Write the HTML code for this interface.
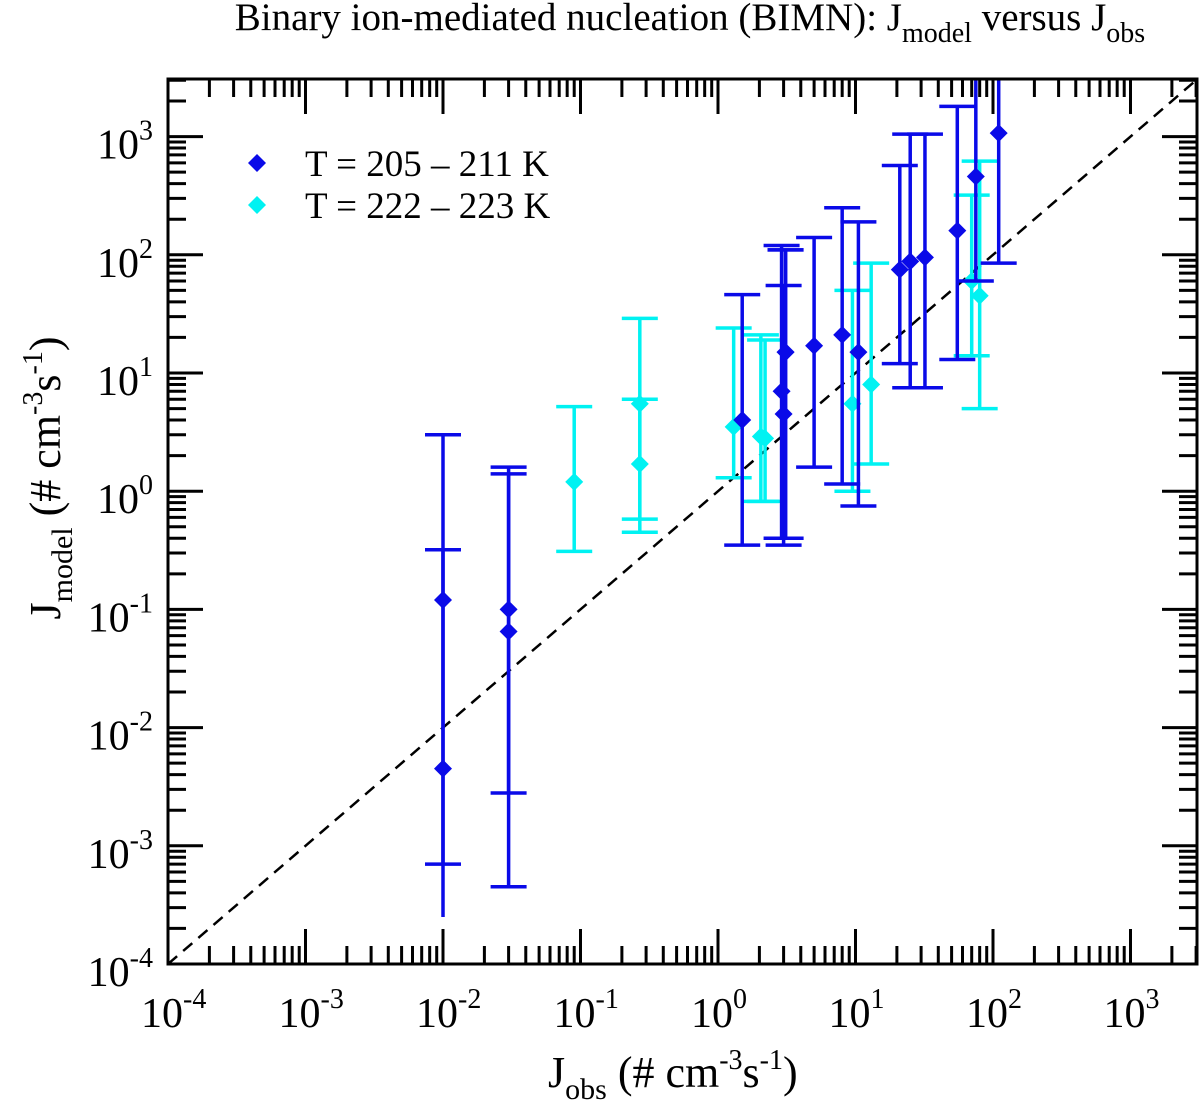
<!DOCTYPE html>
<html><head><meta charset="utf-8"><style>
html,body{margin:0;padding:0;background:#fff;}
svg{display:block;font-family:"Liberation Serif",serif;}
</style></head><body>
<svg id="chart" width="1201" height="1112" viewBox="0 0 1201 1112">
<text x="690" y="30" text-anchor="middle" font-size="39">Binary ion-mediated nucleation (BIMN): J<tspan font-size="28" dy="12">model</tspan><tspan dy="-12"> versus J</tspan><tspan font-size="28" dy="12">obs</tspan></text>
<g id="plot"></g>
<text x="548" y="1087" font-size="44">J<tspan font-size="30" dy="12">obs</tspan><tspan dy="-12"> (# cm</tspan><tspan font-size="28" dy="-18">-3</tspan><tspan dy="18">s</tspan><tspan font-size="28" dy="-18">-1</tspan><tspan dy="18">)</tspan></text>
<text transform="translate(60,478) rotate(-90)" text-anchor="middle" font-size="44">J<tspan font-size="30" dy="12">model</tspan><tspan dy="-12"> (# cm</tspan><tspan font-size="28" dy="-18">-3</tspan><tspan dy="18">s</tspan><tspan font-size="28" dy="-18">-1</tspan><tspan dy="18">)</tspan></text>
</svg>
<script>
// data
const blueX  = [0.01, 0.01, 0.03, 0.03, 1.5, 2.9, 3.0, 3.1, 3.1, 5, 8, 10.5, 21, 25, 32, 55, 75, 110];
const blueY  = [0.12, 0.0045, 0.1, 0.065, 4.0, 7, 4.5, 15, 15, 17, 21, 15, 75, 88, 95, 160, 460, 1070];
const blueHi = [3, 0.32, 1.6, 1.4, 46, 120, 55, 110, 110, 140, 250, 190, 570, 1050, 1050, 1800, 5000, 5000];
const blueLo = [0.00025, 0.0007, 0.0028, 0.00045, 0.35, 0.4, 0.35, 0.4, 0.4, 1.6, 1.15, 0.75, 12, 7.5, 7.5, 13, 60, 85];
const cyanX  = [0.09, 0.27, 0.27, 1.3, 2.05, 2.2, 9.5, 13, 70, 80];
const cyanY  = [1.2, 5.5, 1.7, 3.5, 2.9, 2.8, 5.5, 8, 60, 45];
const cyanHi = [5.2, 29, 6, 24, 21, 19, 50, 85, 320, 620];
const cyanLo = [0.31, 0.45, 0.58, 1.3, 0.82, 0.82, 1.0, 1.7, 14, 5];
const xTickExp = [-4,-3,-2,-1,0,1,2,3];
const yTickExp = [-4,-3,-2,-1,0,1,2,3];
const legendLabels = ["T = 205 \u2013 211 K", "T = 222 \u2013 223 K"];

const L=168, R=1197, T=79, B=964;
const xDec=137.5, yDec=118.2;
const sx = v => L + (Math.log10(v)+4)*xDec;
const sy = v => B - (Math.log10(v)+4)*yDec;
const NS="http://www.w3.org/2000/svg";
const g=document.getElementById('plot');
function mk(tag, attrs, parent){const e=document.createElementNS(NS,tag);for(const k in attrs)e.setAttribute(k,attrs[k]);(parent||g).appendChild(e);return e;}

const defs=mk('defs',{});
const cp=mk('clipPath',{id:'clip'},defs);
mk('rect',{x:L,y:T,width:R-L,height:B-T},cp);

const tg=mk('g',{stroke:'#000','stroke-width':3});


for(let e=-4;e<=3;e++){
  for(let m=1;m<=9;m++){
    const v=m*Math.pow(10,e);
    const len = m===1?35:18;
    const x=sx(v);
    if(x>=L && x<=R){
      mk('line',{x1:x,y1:B,x2:x,y2:B-len},tg);
      mk('line',{x1:x,y1:T,x2:x,y2:T+len},tg);
    }
    const y=sy(v);
    if(y>=T && y<=B){
      mk('line',{x1:L,y1:y,x2:L+len,y2:y},tg);
      mk('line',{x1:R,y1:y,x2:R-len,y2:y},tg);
    }
  }
}
xTickExp.forEach(e=>{
  const t=mk('text',{x:sx(Math.pow(10,e))-27,y:1027,'font-size':42});
  
  
  t.innerHTML='10<tspan font-size="28" dy="-19">'+e+'</tspan>';
});
yTickExp.forEach(e=>{
  const t=mk('text',{x:153,y:sy(Math.pow(10,e))+22,'text-anchor':'end','font-size':42});
  
  
  t.innerHTML='10<tspan font-size="28" dy="-19">'+e+'</tspan>';
});

const dl=mk('line',{x1:sx(1e-4),y1:sy(1e-4),x2:sx(3000),y2:sy(3000),stroke:'#000','stroke-width':2.5,'stroke-dasharray':'12,8','clip-path':'url(#clip)'});



function series(xs,ys,his,los,color,name){
  const sg=mk('g',{'clip-path':'url(#clip)'});
  
  
  xs.forEach((xv,i)=>{
    const x=sx(xv), yh=sy(his[i]), yl=sy(los[i]);
    const eb=mk('g',{stroke:color,'stroke-width':3.5},sg);
    
    
    mk('line',{x1:x,y1:yh,x2:x,y2:yl},eb);
    mk('line',{x1:x-18,y1:yh,x2:x+18,y2:yh},eb);
    if(los[i]>0.0003) mk('line',{x1:x-18,y1:yl,x2:x+18,y2:yl},eb);
  });
  xs.forEach((xv,i)=>{
    const x=sx(xv), y=sy(ys[i]);
    const p=mk('polygon',{points:`${x},${y-9} ${x+9},${y} ${x},${y+9} ${x-9},${y}`,fill:color},sg);
    
    
  });
}
series(cyanX,cyanY,cyanHi,cyanLo,'#00f2f2','cyan');
series(blueX,blueY,blueHi,blueLo,'#0a0ae8','blue');

const fr=mk('rect',{x:L,y:T,width:R-L,height:B-T,fill:'none',stroke:'#000','stroke-width':3});



const cols=['#0a0ae8','#00f2f2'];
legendLabels.forEach((lab,i)=>{
  const lg=mk('g',{});
  
  
  const y=163+i*42;
  mk('polygon',{points:`257,${y-9} 266,${y} 257,${y+9} 248,${y}`,fill:cols[i]},lg);
  const t=mk('text',{x:305,y:y+13,'font-size':37},lg);
  t.textContent=lab;
});
</script>
</body></html>
